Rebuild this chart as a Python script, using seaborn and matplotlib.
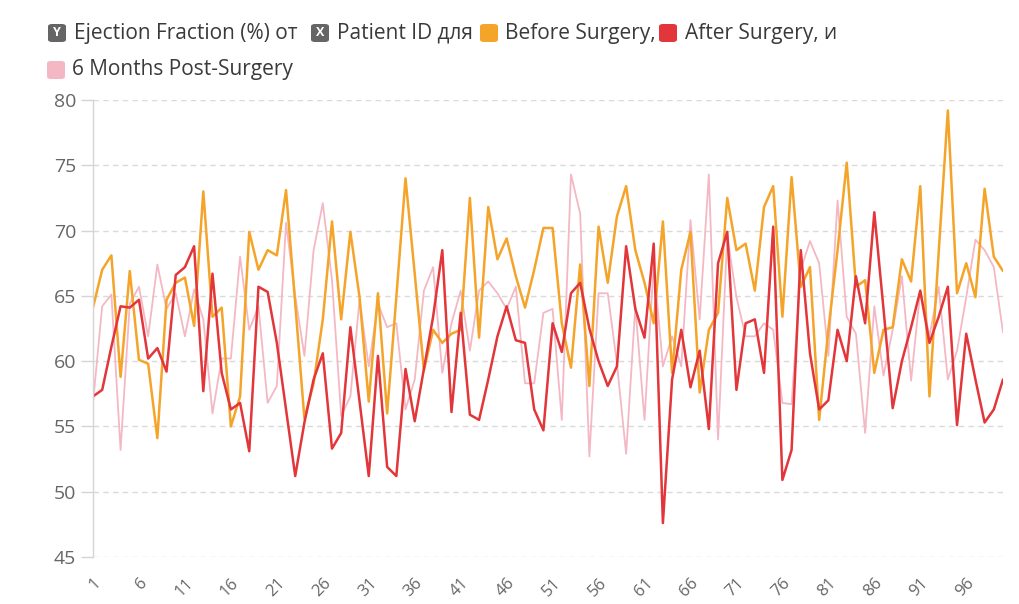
import numpy as np
import pandas as pd
import matplotlib
matplotlib.use("Agg")
import matplotlib.pyplot as plt
from matplotlib.patches import FancyBboxPatch
import seaborn as sns

patients = list(range(1, 101))

before_surgery = [
    64.1, 67.0, 68.1, 58.8, 66.9, 60.1, 59.8, 54.1, 64.7, 66.0,
    66.4, 62.7, 73.0, 63.4, 64.1, 55.0, 57.3, 69.9, 67.0, 68.5,
    68.1, 73.1, 64.4, 55.6, 58.3, 63.2, 70.7, 63.2, 69.9, 64.9,
    56.9, 65.2, 56.0, 64.9, 74.0, 66.7, 59.3, 62.4, 61.4, 62.1,
    62.4, 72.5, 61.8, 71.8, 67.8, 69.4, 66.5, 64.1, 67.0, 70.2,
    70.2, 62.9, 59.5, 67.4, 58.1, 70.3, 66.0, 71.1, 73.4, 68.5,
    66.0, 62.9, 70.7, 59.1, 67.0, 69.9, 57.6, 62.4, 63.7, 72.5,
    68.5, 69.0, 65.4, 71.8, 73.4, 63.4, 74.1, 65.7, 67.2, 55.5,
    62.4, 68.5, 75.2, 65.7, 66.2, 59.1, 62.4, 62.6, 67.8, 66.1,
    73.4, 57.3, 68.3, 79.2, 65.2, 67.5, 64.9, 73.2, 68.0, 66.9,
]

after_surgery = [
    57.3, 57.8, 61.1, 64.2, 64.1, 64.7, 60.2, 61.0, 59.2, 66.6,
    67.2, 68.8, 57.7, 66.7, 59.1, 56.3, 56.8, 53.1, 65.7, 65.3,
    61.4, 56.3, 51.2, 55.3, 58.6, 60.6, 53.3, 54.5, 62.6, 56.9,
    51.2, 60.4, 51.9, 51.2, 59.4, 55.4, 59.4, 63.4, 68.5, 56.1,
    63.7, 55.9, 55.5, 58.6, 61.9, 64.2, 61.6, 61.4, 56.3, 54.7,
    62.9, 60.7, 65.2, 66.0, 62.5, 60.0, 58.1, 59.6, 68.8, 64.0,
    61.8, 69.0, 47.6, 58.6, 62.4, 58.0, 60.8, 54.8, 67.5, 69.9,
    57.8, 62.9, 63.2, 59.1, 70.3, 50.9, 53.2, 68.5, 60.6, 56.3,
    57.0, 62.4, 60.0, 66.5, 62.9, 71.4, 64.0, 56.4, 60.0, 62.6,
    65.4, 61.4, 63.4, 65.7, 55.1, 62.1, 58.6, 55.3, 56.3, 58.6,
]

six_months_post = [
    56.8, 64.2, 65.1, 53.2, 64.4, 65.7, 61.9, 67.4, 64.0, 65.2,
    61.9, 65.5, 63.2, 56.0, 60.2, 60.2, 68.0, 62.4, 64.2, 56.8,
    58.1, 70.6, 65.0, 60.4, 68.5, 72.1, 66.2, 55.8, 57.3, 64.7,
    59.6, 64.4, 62.6, 62.9, 56.3, 58.6, 65.4, 67.2, 59.1, 62.9,
    65.4, 60.8, 65.4, 66.1, 65.2, 64.0, 65.7, 58.3, 58.3, 63.7,
    64.0, 55.5, 74.3, 71.3, 52.7, 65.2, 65.2, 59.8, 52.9, 64.2,
    55.5, 67.5, 59.6, 61.9, 59.6, 70.8, 63.2, 74.3, 54.0, 69.6,
    64.9, 61.9, 61.9, 62.9, 62.4, 56.8, 56.7, 67.0, 69.2, 67.5,
    60.4, 72.3, 63.4, 62.1, 54.5, 64.2, 58.9, 62.4, 66.5, 58.5,
    65.4, 61.9, 65.7, 58.6, 60.8, 64.9, 69.3, 68.5, 67.2, 62.2,
]

series_names = ["Before Surgery", "After Surgery", "6 Months Post-Surgery"]
series_colors = ["#F5A42A", "#E2363A", "#F4B8C4"]
series_widths = [1.8, 1.8, 1.3]
y_ticks = [45, 50, 55, 60, 65, 70, 75, 80]
x_ticks = list(range(1, 100, 5))

df = pd.DataFrame({
    "Patient ID": patients * 3,
    "Ejection Fraction (%)": before_surgery + after_surgery + six_months_post,
    "Series": sum([[n] * len(patients) for n in series_names], []),
})

sns.set_theme(style="white")
plt.rcParams["font.family"] = ["Open Sans", "DejaVu Sans"]

W, H = 1019, 604
fig = plt.figure(figsize=(W / 100, H / 100), dpi=100)
ax = fig.add_axes([93 / W, 1 - 557 / H, (1003 - 93) / W, (557 - 100) / H])

for name in ["6 Months Post-Surgery", "Before Surgery", "After Surgery"]:
    i = series_names.index(name)
    sub = df[df["Series"] == name]
    sns.lineplot(data=sub, x="Patient ID", y="Ejection Fraction (%)", ax=ax,
                 color=series_colors[i], linewidth=series_widths[i], legend=False)

ax.set_xlim(1, 100)
ax.set_ylim(45, 80)
ax.set_yticks(y_ticks)
ax.set_xticks(x_ticks)
ax.set_xticklabels([str(t) for t in x_ticks], rotation=45, ha="right",
                   rotation_mode="anchor")
ax.set_xlabel("")
ax.set_ylabel("")
for yv in y_ticks:
    ax.axhline(yv, color="#DADADA", linewidth=1.0, linestyle=(0, (4, 3)), zorder=0)
for s in ["top", "right", "bottom"]:
    ax.spines[s].set_visible(False)
ax.spines["left"].set_color("#D5D5D5")
ax.spines["left"].set_linewidth(1.0)
ax.tick_params(axis="y", length=9, width=1.0, color="#D5D5D5", labelsize=14,
               labelcolor="#666666", pad=3, left=True)
ax.tick_params(axis="x", length=0, labelsize=12, labelcolor="#666666", pad=13)

def fx(px):
    return px / W

def fy(py):
    return 1 - py / H

fs = 15
txt_color = "#3A3A3A"

def box(x0, yc, color, letter=None):
    size = 18
    r = FancyBboxPatch((fx(x0), fy(yc + size / 2)), size / W, size / H,
                       boxstyle="round,pad=0,rounding_size=0.004",
                       transform=fig.transFigure, fc=color, ec="none")
    fig.patches.append(r)
    if letter:
        fig.text(fx(x0 + size / 2), fy(yc), letter, fontsize=9, color="white",
                 ha="center", va="center", fontweight="bold")

row1 = 33
row2 = 70
box(48, row1, "#656565", "Y")
fig.text(fx(74), fy(row1), "Ejection Fraction (%) от", fontsize=fs, color=txt_color,
         ha="left", va="center")
box(311, row1, "#656565", "X")
fig.text(fx(337), fy(row1), "Patient ID для", fontsize=fs, color=txt_color,
         ha="left", va="center")
box(480, row1, series_colors[0])
fig.text(fx(505), fy(row1), "Before Surgery,", fontsize=fs, color=txt_color,
         ha="left", va="center")
box(659, row1, series_colors[1])
fig.text(fx(685), fy(row1), "After Surgery, и", fontsize=fs, color=txt_color,
         ha="left", va="center")
box(47, row2, series_colors[2])
fig.text(fx(72), fy(row2), "6 Months Post-Surgery", fontsize=fs, color=txt_color,
         ha="left", va="center")

fig.savefig("out.png", dpi=100, facecolor="white")
